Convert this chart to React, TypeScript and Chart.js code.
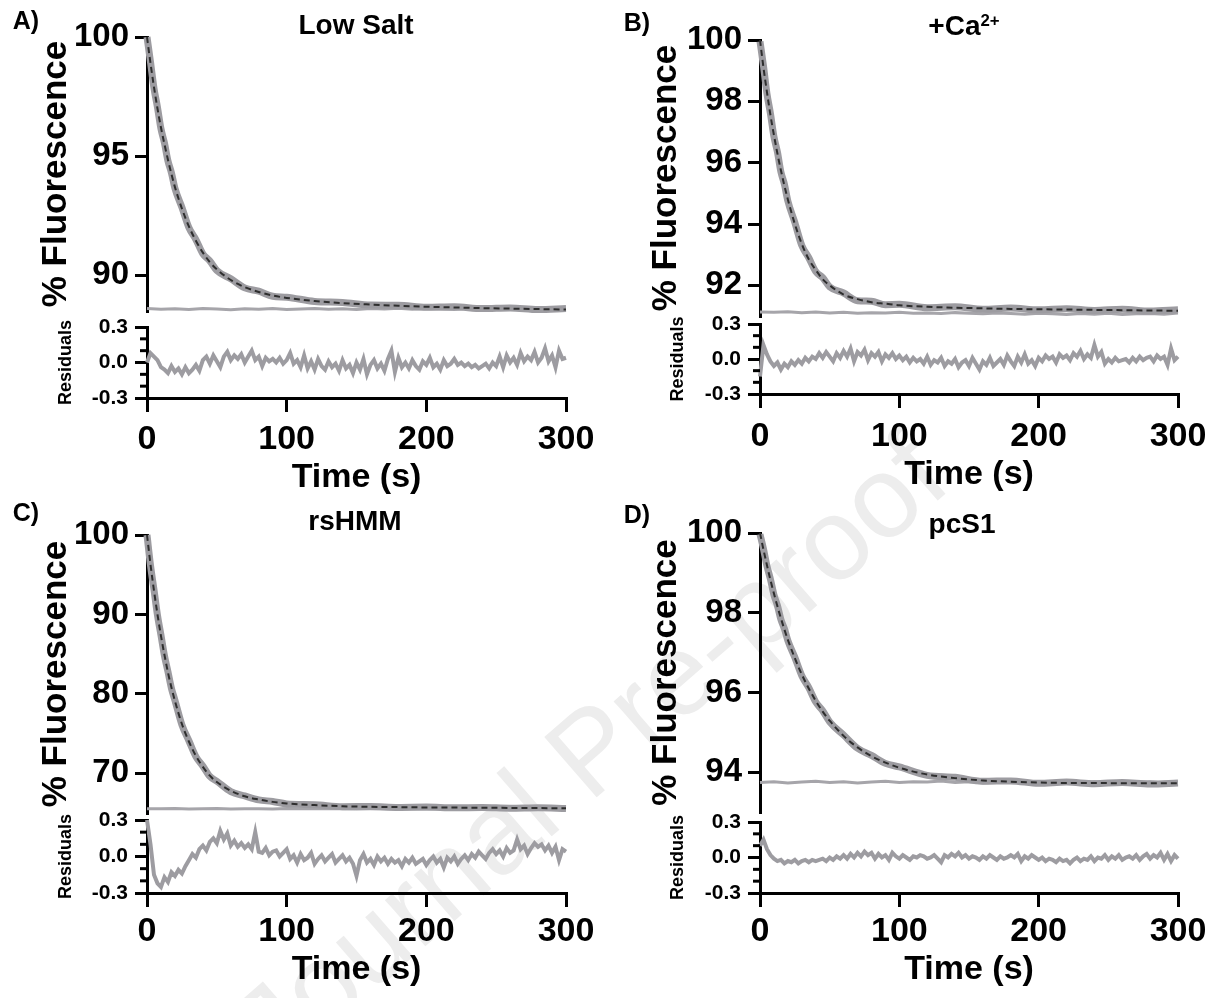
import React, { useEffect, useRef } from "react";
import { Chart, registerables } from "chart.js";

Chart.register(...registerables);

const FONT = '"Liberation Sans", Arial, Helvetica, sans-serif';

// ---------- data ----------
const T_FIT = [0, 2.5, 5, 7.5, 10, 12.5, 15, 17.5, 20, 25, 30, 35, 40, 45, 50, 60, 70, 80, 90, 100, 120, 140, 160, 180, 200, 220, 240, 260, 280, 300];
const T_BASE = [0, 10, 20, 30, 40, 50, 60, 70, 80, 90, 100, 110, 120, 130, 140, 150, 160, 170, 180, 190, 200, 210, 220, 230, 240, 250, 260, 270, 280, 290, 300];
const T_RES = [
  0, 2.5, 5, 7.5, 10, 12.5, 15, 17.5, 20, 22.5, 25, 27.5, 30, 32.5, 35, 37.5, 40, 42.5, 45, 47.5,
  50, 52.5, 55, 57.5, 60, 62.5, 65, 67.5, 70, 72.5, 75, 77.5, 80, 82.5, 85, 87.5, 90, 92.5, 95, 97.5,
  100, 102.5, 105, 107.5, 110, 112.5, 115, 117.5, 120, 122.5, 125, 127.5, 130, 132.5, 135, 137.5, 140, 142.5, 145, 147.5,
  150, 152.5, 155, 157.5, 160, 162.5, 165, 167.5, 170, 172.5, 175, 177.5, 180, 182.5, 185, 187.5, 190, 192.5, 195, 197.5,
  200, 202.5, 205, 207.5, 210, 212.5, 215, 217.5, 220, 222.5, 225, 227.5, 230, 232.5, 235, 237.5, 240, 242.5, 245, 247.5,
  250, 252.5, 255, 257.5, 260, 262.5, 265, 267.5, 270, 272.5, 275, 277.5, 280, 282.5, 285, 287.5, 290, 292.5, 295, 297.5, 300,
];

const X_TICKS = [0, 100, 200, 300];
const RES_TICKS = [-0.3, 0, 0.3];
const RES_MINOR = [-0.2, -0.1, 0.1, 0.2];

// Panel A: Low Salt
const LS_TICKS = [90, 95, 100];
const LS_MIN = 88.5;
const LS_FIT = [100, 98.9, 97.9, 97.0, 96.2, 95.5, 94.85, 94.25, 93.7, 92.8, 92.05, 91.45, 90.95, 90.55, 90.25, 89.8, 89.5, 89.3, 89.15, 89.05, 88.92, 88.83, 88.77, 88.72, 88.68, 88.65, 88.62, 88.6, 88.58, 88.56];
const LS_DATA = [100, 98.95, 97.85, 97.05, 96.15, 95.55, 94.8, 94.3, 93.65, 92.85, 92.0, 91.5, 90.9, 90.6, 90.2, 89.85, 89.47, 89.33, 89.12, 89.08, 88.9, 88.86, 88.75, 88.74, 88.66, 88.68, 88.6, 88.63, 88.56, 88.6];
const LS_BASE = [88.6, 88.57, 88.59, 88.56, 88.6, 88.58, 88.55, 88.59, 88.57, 88.6, 88.56, 88.58, 88.61, 88.57, 88.59, 88.56, 88.6, 88.58, 88.62, 88.57, 88.6, 88.58, 88.56, 88.6, 88.57, 88.59, 88.56, 88.6, 88.57, 88.59, 88.6];
const LS_RES = [
  0.0, 0.08, 0.05, 0.02, -0.04, -0.06, -0.09, -0.03, -0.08, -0.05, -0.1, -0.04, -0.09, -0.06, -0.02, -0.07, 0.02, 0.05, -0.01, 0.06,
  0.01, -0.04, 0.05, 0.09, 0.02, 0.06, 0.03, 0.07, 0.0, 0.05, 0.1, 0.02, 0.05, -0.03, 0.04, 0.01, 0.03, 0.0, 0.04, -0.01,
  0.02, 0.08, -0.01, 0.02, -0.04, 0.06, -0.05, 0.01, -0.06, 0.03, -0.03, -0.06, 0.01, -0.04, -0.01, -0.07, 0.02, -0.05, -0.02, -0.09,
  0.0, -0.06, 0.03, -0.1, -0.02, 0.02, -0.05, -0.01, -0.07, 0.03, 0.1, -0.08, 0.04, -0.04, 0.0, -0.05, 0.02, -0.03, -0.06, 0.01,
  -0.02, 0.04, -0.04, -0.01, -0.06, 0.02, -0.03, -0.01, 0.03, -0.02, 0.0, -0.03, -0.01, -0.04, -0.02, -0.05, -0.03, -0.01, -0.05, 0.0,
  -0.03, 0.05, -0.04, 0.06, 0.0, 0.04, -0.02, 0.08, 0.01, 0.05, 0.02, 0.09, 0.0, 0.04, 0.12, 0.01, 0.06, -0.04, 0.1, 0.03, 0.04,
];

// Panel B: +Ca2+
const CA_TICKS = [92, 94, 96, 98, 100];
const CA_MIN = 91.0;
const CA_FIT = [100, 99.1, 98.3, 97.55, 96.9, 96.3, 95.75, 95.25, 94.8, 94.0, 93.35, 92.85, 92.5, 92.2, 92.0, 91.7, 91.55, 91.45, 91.4, 91.35, 91.3, 91.27, 91.25, 91.23, 91.22, 91.21, 91.2, 91.19, 91.18, 91.17];
const CA_DATA = [99.95, 99.15, 98.25, 97.6, 96.85, 96.35, 95.7, 95.3, 94.75, 94.05, 93.3, 92.9, 92.45, 92.25, 91.95, 91.75, 91.5, 91.48, 91.37, 91.38, 91.27, 91.3, 91.22, 91.26, 91.2, 91.24, 91.18, 91.22, 91.16, 91.2];
const CA_BASE = [91.13, 91.12, 91.14, 91.11, 91.13, 91.1, 91.12, 91.09, 91.11, 91.1, 91.12, 91.09, 91.1, 91.08, 91.11, 91.09, 91.07, 91.1, 91.08, 91.06, 91.09, 91.07, 91.05, 91.08, 91.06, 91.09, 91.05, 91.07, 91.08, 91.06, 91.1];
const CA_RES = [
  -0.15, 0.12, 0.04, -0.02, -0.06, -0.03, -0.09, -0.04, -0.07, -0.02, -0.05, -0.01, -0.04, 0.01, -0.02, 0.02, 0.0, 0.05, 0.01, 0.06,
  0.02, -0.02, 0.05, 0.01, 0.07, 0.02, 0.09, -0.02, 0.06, 0.03, 0.08, -0.01, 0.05, 0.02, 0.06, -0.02, 0.04, 0.01, 0.05, 0.0,
  0.03, -0.01, 0.02, -0.03, 0.01, -0.02, 0.0, -0.04, 0.02, -0.05, -0.01, -0.03, 0.01, -0.06, -0.02, -0.04, 0.0, -0.07, -0.03, -0.01,
  -0.06, 0.01, -0.04, -0.09, -0.02, -0.05, 0.01, -0.06, -0.03, 0.0, -0.05, 0.03, -0.02, -0.06, 0.02, -0.03, 0.04, -0.04, -0.01, -0.06,
  0.01, -0.02, 0.03, 0.0, 0.02, -0.03, 0.04, 0.01, 0.03, -0.01, 0.05, 0.02, 0.07, 0.0, 0.04, 0.01, 0.12, 0.02, 0.06, -0.04,
  0.0, -0.03, 0.01, -0.02, -0.01, 0.0, -0.03, 0.01, -0.02, 0.02, -0.01, 0.01, 0.02, -0.02, 0.03, 0.0, 0.02, -0.05, 0.09, -0.01, 0.02,
];

// Panel C: rsHMM
const HMM_TICKS = [70, 80, 90, 100];
const HMM_MIN = 65;
const HMM_FIT = [100, 96.3, 93.0, 90.0, 87.3, 84.9, 82.7, 80.8, 79.1, 76.2, 74.0, 72.2, 70.8, 69.7, 68.9, 67.8, 67.1, 66.7, 66.4, 66.2, 66.0, 65.85, 65.78, 65.74, 65.7, 65.68, 65.66, 65.64, 65.62, 65.6];
const HMM_DATA = [100, 96.2, 93.1, 89.9, 87.4, 84.8, 82.8, 80.7, 79.2, 76.1, 74.1, 72.1, 70.9, 69.6, 69.0, 67.7, 67.15, 66.65, 66.45, 66.15, 66.05, 65.8, 65.82, 65.7, 65.74, 65.65, 65.7, 65.6, 65.66, 65.58];
const HMM_BASE = [65.55, 65.52, 65.56, 65.5, 65.54, 65.57, 65.51, 65.55, 65.53, 65.5, 65.56, 65.52, 65.55, 65.58, 65.53, 65.5, 65.54, 65.56, 65.52, 65.55, 65.5, 65.53, 65.57, 65.52, 65.55, 65.51, 65.54, 65.56, 65.52, 65.55, 65.53];
const HMM_RES = [
  0.3, 0.1, -0.15, -0.22, -0.25, -0.17, -0.21, -0.13, -0.16, -0.11, -0.14, -0.08, -0.03, 0.02, -0.01, 0.06, 0.09, 0.05, 0.12, 0.15,
  0.11, 0.21, 0.14, 0.19, 0.09, 0.13, 0.08, 0.11, 0.07, 0.1, 0.06, 0.2, 0.04, 0.03, 0.07, 0.01, 0.04, 0.05, 0.0, 0.03,
  0.06, -0.02, 0.01, -0.05, 0.02, -0.03, -0.01, 0.03, -0.06, -0.02, 0.01, -0.04, -0.01, 0.02, -0.05, -0.02, 0.01, -0.04, -0.01, -0.06,
  -0.16, -0.03, 0.02, -0.05, -0.02, -0.07, 0.0, -0.04, -0.01, -0.06, -0.02, -0.05, -0.03, -0.08, -0.02, -0.05, -0.01, -0.06, -0.04, -0.02,
  -0.07, -0.03, 0.0, -0.05, -0.02, -0.09, -0.01, -0.04, 0.0, -0.06, -0.02, 0.01, -0.03, 0.02, -0.01, 0.04, 0.01, -0.02, 0.03, 0.06,
  0.02, 0.05, 0.0, 0.07, 0.03, 0.05, 0.14, 0.06, 0.09, 0.02, 0.07, 0.11, 0.08, 0.1, 0.05, 0.09, 0.03, 0.08, -0.03, 0.06, 0.04,
];

// Panel D: pcS1
const S1_TICKS = [94, 96, 98, 100];
const S1_MIN = 93;
const S1_FIT = [100, 99.58, 99.19, 98.82, 98.48, 98.16, 97.86, 97.58, 97.32, 96.86, 96.45, 96.1, 95.79, 95.52, 95.29, 94.91, 94.62, 94.4, 94.24, 94.11, 93.94, 93.85, 93.79, 93.76, 93.74, 93.73, 93.73, 93.72, 93.72, 93.72];
const S1_DATA = [99.97, 99.6, 99.17, 98.84, 98.45, 98.18, 97.83, 97.6, 97.3, 96.88, 96.42, 96.12, 95.76, 95.54, 95.26, 94.93, 94.6, 94.42, 94.22, 94.13, 93.92, 93.87, 93.77, 93.78, 93.72, 93.75, 93.71, 93.74, 93.7, 93.73];
const S1_BASE = [93.74, 93.76, 93.73, 93.75, 93.77, 93.74, 93.76, 93.73, 93.75, 93.77, 93.74, 93.76, 93.75, 93.78, 93.74, 93.76, 93.73, 93.75, 93.77, 93.74, 93.76, 93.73, 93.75, 93.74, 93.76, 93.73, 93.75, 93.74, 93.76, 93.73, 93.75];
const S1_RES = [
  0.1, 0.15, 0.07, 0.02, -0.01, -0.03, -0.02, -0.05, -0.03, -0.04, -0.02, -0.05, -0.03, -0.02, -0.04, -0.02, -0.03, -0.02, -0.01, -0.03,
  0.0, -0.02, 0.01, -0.01, 0.02, -0.01, 0.03, 0.0, 0.04, 0.01, 0.05, 0.02, 0.04, -0.01, 0.03, 0.0, 0.02, -0.02, 0.04, 0.01,
  -0.01, 0.02, 0.0, -0.02, 0.01, 0.0, 0.02, 0.01, -0.01, 0.0, 0.02, -0.01, -0.04, 0.02, 0.0, 0.03, 0.01, 0.04, 0.0, 0.02,
  -0.01, 0.01, 0.0, -0.02, 0.01, -0.01, 0.02, 0.0, -0.02, 0.01, -0.01, 0.0, 0.02, 0.0, 0.03, -0.03, 0.01, -0.01, 0.02, 0.0,
  -0.02, 0.0, -0.03, -0.01, -0.02, -0.04, -0.01, -0.03, -0.02, -0.05, -0.02, 0.0, -0.03, -0.01, -0.02, 0.01, -0.03, 0.0, -0.01, 0.02,
  -0.02, 0.01, -0.01, 0.02, -0.02, 0.0, 0.01, -0.01, 0.02, -0.02, 0.01, 0.03, -0.01, 0.02, 0.0, 0.04, -0.02, 0.03, -0.03, 0.02, -0.01,
];

const PANEL_LETTERS = ["A)", "B)", "C)", "D)"];
const PANEL_TITLES = ["Low Salt", "+Ca", "rsHMM", "pcS1"];
const PANEL_TITLE_SUPS = ["", "2+", "", ""];
const Y_TITLE = "% Fluorescence";
const RES_TITLE = "Residuals";
const X_TITLE = "Time (s)";
const WATERMARK = "Journal Pre-proof";

// ---------- layout / style ----------
const GRAY = "#9d9ca1";
const GRAY_LIGHT = "#a6a5aa";
const DARK = "#2e2e2e";

type Geo = {
  cl: number; axisX: number; endX: number; mainTop: number; mainBottom: number;
  resTop: number; resBottom: number; tickY: number; titleY: number; yTitleX: number; resTitleX: number;
};

const GEOS: Geo[] = [
  { cl: 0, axisX: 147, endX: 566, mainTop: 37, mainBottom: 310.7, resTop: 327, resBottom: 398, tickY: 440, titleY: 478, yTitleX: 56, resTitleX: 66 },
  { cl: 607, axisX: 760, endX: 1178, mainTop: 40, mainBottom: 315.6, resTop: 324, resBottom: 394, tickY: 437, titleY: 475, yTitleX: 666, resTitleX: 678 },
  { cl: 0, axisX: 147, endX: 566, mainTop: 535, mainBottom: 812.7, resTop: 820, resBottom: 893, tickY: 932, titleY: 970, yTitleX: 56, resTitleX: 66 },
  { cl: 607, axisX: 760, endX: 1178, mainTop: 533, mainBottom: 811.8, resTop: 822, resBottom: 893, tickY: 932, titleY: 970, yTitleX: 666, resTitleX: 678 },
];
const LETTER_POS = [[26, 20], [637, 22], [26, 512], [637, 514]];
const TITLE_POS = [[356, 25], [964, 26], [355, 521], [962, 524]];
const WATERMARK_POS = [590, 750];

const CANVAS_W = 607;
const MAIN_PAD = 34;
const RES_PAD_TOP = 16;
const RES_BOTTOM_EXTRA = 24;

const Y_TICK_FONT = 33;
const X_TICK_FONT = 34;
const BIG_TITLE_FONT = 34;
const Y_TITLE_FONT = 35;
const RES_TICK_FONT = 21;
const RES_TITLE_FONT = 18;

const minorTicksPlugin = {
  id: "minorTicks",
  afterDraw(chart: any, _args: any, opts: any) {
    if (!opts || !opts.values) return;
    const s = chart.scales.y;
    const ctx = chart.ctx;
    ctx.save();
    ctx.strokeStyle = "#000";
    ctx.lineWidth = 3;
    for (const v of opts.values) {
      const y = s.getPixelForValue(v);
      ctx.beginPath();
      ctx.moveTo(s.right - opts.length, y);
      ctx.lineTo(s.right, y);
      ctx.stroke();
    }
    ctx.restore();
  },
};

const pts = (xs: number[], ys: number[]) => xs.map((x, i) => ({ x, y: ys[i] }));

function mainConfig(g: Geo, ticks: number[], min: number, fit: number[], data: number[], base: number[]) {
  const lh = Y_TITLE_FONT * 1.2;
  return {
    type: "line",
    data: {
      // Chart.js draws dataset 0 on top
      datasets: [
        { data: pts(T_FIT, fit), borderColor: DARK, borderWidth: 2, borderDash: [6, 4], pointRadius: 0, cubicInterpolationMode: "monotone", clip: false },
        { data: pts(T_FIT, data), borderColor: GRAY, borderWidth: 7, pointRadius: 0, cubicInterpolationMode: "monotone", clip: false },
        { data: pts(T_BASE, base), borderColor: GRAY_LIGHT, borderWidth: 3, pointRadius: 0, tension: 0, clip: false },
      ],
    },
    options: {
      responsive: false,
      animation: false,
      devicePixelRatio: 1,
      events: [],
      layout: { padding: { left: 0, right: g.cl + CANVAS_W - g.endX, top: MAIN_PAD, bottom: MAIN_PAD } },
      plugins: { legend: { display: false }, tooltip: { enabled: false } },
      scales: {
        x: { type: "linear", min: 0, max: 300, display: false },
        y: {
          type: "linear",
          min,
          max: 100,
          afterBuildTicks: (s: any) => { s.ticks = ticks.map((v) => ({ value: v })); },
          afterFit: (s: any) => { s.width = g.axisX - g.cl; s.paddingTop = 0; s.paddingBottom = 0; },
          border: { display: true, color: "#000", width: 3 },
          grid: { display: true, drawOnChartArea: false, drawTicks: true, tickLength: 12, color: "#000", lineWidth: 3 },
          ticks: { color: "#000", padding: 6, font: { family: FONT, size: Y_TICK_FONT, weight: "bold" }, callback: (v: any) => String(v) },
          title: {
            display: true, text: Y_TITLE, color: "#000",
            font: { family: FONT, size: Y_TITLE_FONT, weight: "bold" },
            padding: { top: g.yTitleX - g.cl - lh / 2, bottom: 0 },
          },
        },
      },
    },
  };
}

function resConfig(g: Geo, res: number[]) {
  const lhT = RES_TITLE_FONT * 1.2;
  const lhX = BIG_TITLE_FONT * 1.2;
  const lhXT = X_TICK_FONT * 1.2;
  const xTickLen = 14;
  return {
    type: "line",
    data: {
      datasets: [
        { data: pts(T_RES, res), borderColor: GRAY, borderWidth: 4, pointRadius: 0, tension: 0, clip: false },
      ],
    },
    plugins: [minorTicksPlugin],
    options: {
      responsive: false,
      animation: false,
      devicePixelRatio: 1,
      events: [],
      layout: { padding: { left: 0, right: g.cl + CANVAS_W - g.endX, top: RES_PAD_TOP, bottom: 0 } },
      plugins: { legend: { display: false }, tooltip: { enabled: false }, minorTicks: { values: RES_MINOR, length: 7 } },
      scales: {
        x: {
          type: "linear",
          min: 0,
          max: 300,
          afterBuildTicks: (s: any) => { s.ticks = X_TICKS.map((v) => ({ value: v })); },
          afterFit: (s: any) => { s.height = g.titleY + RES_BOTTOM_EXTRA - g.resBottom; s.paddingLeft = 0; s.paddingRight = 0; },
          border: { display: true, color: "#000", width: 3 },
          grid: { display: true, drawOnChartArea: false, drawTicks: true, tickLength: xTickLen, color: "#000", lineWidth: 3 },
          ticks: {
            color: "#000", maxRotation: 0, autoSkip: false,
            padding: g.tickY - g.resBottom - xTickLen - lhXT / 2,
            font: { family: FONT, size: X_TICK_FONT, weight: "bold" },
            callback: (v: any) => String(v),
          },
          title: {
            display: true, text: X_TITLE, color: "#000",
            font: { family: FONT, size: BIG_TITLE_FONT, weight: "bold" },
            padding: { top: 0, bottom: RES_BOTTOM_EXTRA - lhX / 2 },
          },
        },
        y: {
          type: "linear",
          min: -0.3,
          max: 0.3,
          afterBuildTicks: (s: any) => { s.ticks = RES_TICKS.map((v) => ({ value: v })); },
          afterFit: (s: any) => { s.width = g.axisX - g.cl; s.paddingTop = 0; s.paddingBottom = 0; },
          border: { display: true, color: "#000", width: 3 },
          grid: { display: true, drawOnChartArea: false, drawTicks: true, tickLength: 12, color: "#000", lineWidth: 3 },
          ticks: { color: "#000", padding: 7, font: { family: FONT, size: RES_TICK_FONT, weight: "bold" }, callback: (v: any) => Number(v).toFixed(1) },
          title: {
            display: true, text: RES_TITLE, color: "#000",
            font: { family: FONT, size: RES_TITLE_FONT, weight: "bold" },
            padding: { top: g.resTitleX - g.cl - lhT / 2, bottom: 0 },
          },
        },
      },
    },
  };
}

function ChartCanvas(props: { left: number; top: number; width: number; height: number; config: any }) {
  const ref = useRef<HTMLCanvasElement>(null);
  const { left, top, width, height, config } = props;
  useEffect(() => {
    const chart = new Chart(ref.current as HTMLCanvasElement, config);
    return () => chart.destroy();
  }, []);
  return (
    <canvas
      ref={ref}
      width={width}
      height={height}
      style={{ position: "absolute", left, top, width, height, display: "block" }}
    />
  );
}

const PANELS = [
  { ticks: LS_TICKS, min: LS_MIN, fit: LS_FIT, data: LS_DATA, base: LS_BASE, res: LS_RES },
  { ticks: CA_TICKS, min: CA_MIN, fit: CA_FIT, data: CA_DATA, base: CA_BASE, res: CA_RES },
  { ticks: HMM_TICKS, min: HMM_MIN, fit: HMM_FIT, data: HMM_DATA, base: HMM_BASE, res: HMM_RES },
  { ticks: S1_TICKS, min: S1_MIN, fit: S1_FIT, data: S1_DATA, base: S1_BASE, res: S1_RES },
];

export default function App() {
  return (
    <div
      style={{
        position: "absolute", left: 0, top: 0, width: 1214, height: 998,
        overflow: "hidden", background: "#fff", fontFamily: FONT,
      }}
    >
      <div
        style={{
          position: "absolute", left: WATERMARK_POS[0], top: WATERMARK_POS[1],
          transform: "translate(-50%, -50%) rotate(-41deg)",
          whiteSpace: "nowrap", color: "#ededed", fontSize: 116, lineHeight: 1, fontFamily: FONT,
        }}
      >
        {WATERMARK}
      </div>
      {PANELS.map((p, i) => {
        const g = GEOS[i];
        const mainTop = g.mainTop - MAIN_PAD;
        const mainH = g.mainBottom - g.mainTop + 2 * MAIN_PAD;
        const resTopC = g.resTop - RES_PAD_TOP;
        const resH = g.titleY + RES_BOTTOM_EXTRA - resTopC;
        return (
          <React.Fragment key={i}>
            <ChartCanvas left={g.cl} top={mainTop} width={CANVAS_W} height={Math.round(mainH)}
              config={mainConfig(g, p.ticks, p.min, p.fit, p.data, p.base)} />
            <ChartCanvas left={g.cl} top={resTopC} width={CANVAS_W} height={Math.round(resH)}
              config={resConfig(g, p.res)} />
            <div style={{
              position: "absolute", left: LETTER_POS[i][0], top: LETTER_POS[i][1],
              transform: "translate(-50%, -50%)", fontSize: 25, fontWeight: "bold", lineHeight: 1, whiteSpace: "nowrap",
            }}>{PANEL_LETTERS[i]}</div>
            <div style={{
              position: "absolute", left: TITLE_POS[i][0], top: TITLE_POS[i][1],
              transform: "translate(-50%, -50%)", fontSize: 28, fontWeight: "bold", lineHeight: 1, whiteSpace: "nowrap",
            }}>
              {PANEL_TITLES[i]}
              {PANEL_TITLE_SUPS[i] ? (
                <span style={{ fontSize: "0.6em", position: "relative", top: "-0.55em" }}>{PANEL_TITLE_SUPS[i]}</span>
              ) : null}
            </div>
          </React.Fragment>
        );
      })}
    </div>
  );
}
